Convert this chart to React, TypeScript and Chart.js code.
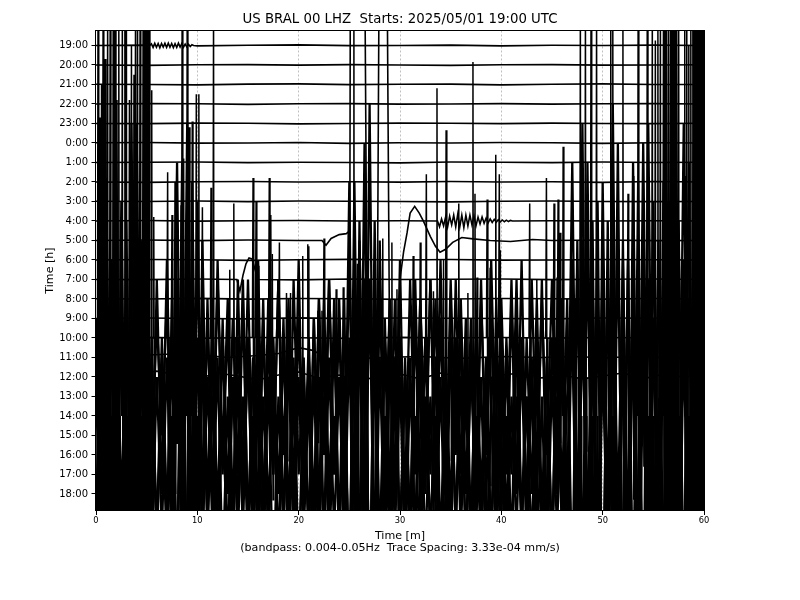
import React, { useEffect, useRef } from 'react';
import { Chart, registerables } from 'chart.js';

Chart.register(...registerables);

// ---------------- text ----------------
const TITLE = 'US BRAL 00 LHZ  Starts: 2025/05/01 19:00 UTC';
const X_LABEL = ['Time [m]', '(bandpass: 0.004-0.05Hz  Trace Spacing: 3.33e-04 mm/s)'];
const Y_LABEL = 'Time [h]';
const HOUR_LABELS = [
  '19:00', '20:00', '21:00', '22:00', '23:00', '0:00', '1:00', '2:00', '3:00', '4:00', '5:00', '6:00',
  '7:00', '8:00', '9:00', '10:00', '11:00', '12:00', '13:00', '14:00', '15:00', '16:00', '17:00', '18:00',
];
const X_TICKS = [0, 10, 20, 30, 40, 50, 60];

// ---------------- data (amplitudes in trace spacings, + = up) ----------------
// quiet traces, one value every 5 minutes
const QUIET_STEP = 5;
const QUIET: (number[] | null)[] = [
  [0, 0.02, -0.02, 0.01, 0.03, -0.01, 0, 0.02, -0.02, 0.01, 0, 0.02, 0],
  [0, -0.02, 0.01, 0.02, -0.01, 0.02, 0, -0.02, 0.01, 0.02, -0.01, 0, 0.01],
  [0.01, 0, -0.02, 0.02, 0.03, -0.01, 0.01, 0.02, -0.02, 0.01, 0.03, 0, 0],
  [0, 0.02, 0.01, -0.02, 0.01, 0.02, -0.01, 0, 0.02, -0.01, 0.01, 0.02, 0],
  [0, -0.01, 0.02, 0.01, -0.02, 0, 0.02, 0.01, -0.01, 0.02, 0, -0.01, 0.01],
  [0.01, 0.02, -0.01, 0, 0.02, -0.02, 0.01, 0, 0.02, 0.01, -0.02, 0.01, 0],
  [0, 0.01, 0.02, -0.01, 0.01, 0, -0.02, 0.02, 0.01, -0.01, 0.02, 0, 0.01],
  [0, -0.02, 0.01, 0.02, 0, 0.01, -0.01, 0.02, 0, 0.01, -0.02, 0.02, 0],
  [0.01, 0, 0.02, -0.01, 0.02, 0.01, 0, -0.02, 0.01, 0.02, 0, -0.01, 0],
  [0, 0.02, -0.01, 0.01, 0.02, 0, 0.01, -0.02, 0.02, 0.01, 0, 0.01, 0],
  null,
  [0, 0.02, 0.01, -0.02, 0.01, 0.03, 0, 0.02, -0.01, 0, 0.02, 0.01, 0],
  [0, -0.01, 0.02, 0.03, -0.02, 0.02, 0, 0.01, 0.02, -0.01, 0.01, 0.02, 0],
  [0.01, 0, 0.03, -0.01, 0.02, 0.01, -0.02, 0, 0.02, 0.01, -0.01, 0.02, 0],
  [0, 0.02, 0, -0.02, 0.03, -0.01, 0.02, 0.01, 0, -0.02, 0.02, 0.01, 0],
  [0, 0.03, -0.02, 0.02, 0.01, -0.02, 0.03, 0, 0.02, -0.01, 0.02, 0, 0.01],
];

// 19:00 small ringing
const RING_1900_START = 5.3;
const RING_1900_STEP = 1 / 6;
const RING_1900 = [0, 0.08, -0.1, 0.11, -0.09, 0.1, -0.12, 0.1, -0.08, 0.11, -0.1, 0.12, -0.09, 0.1, -0.11, 0.09, -0.1, 0.12, -0.08, 0.1, -0.09, 0.07, -0.08, 0.06, -0.05, 0.04, 0];

// 4:00 ringing
const RING_0400_START = 33.7;
const RING_0400_STEP = 0.2;
const RING_0400 = [0, -0.3, 0.1, -0.25, 0.2, -0.3, 0.25, -0.2, 0.3, -0.3, 0.35, -0.3, 0.3, -0.35, 0.3, -0.25, 0.3, -0.2, 0.25, -0.25, 0.2, -0.15, 0.2, -0.12, 0.15, -0.1, 0.1, -0.08, 0.08, -0.06, 0.06, -0.05, 0.05, -0.04, 0.04, -0.03, 0.03, 0];

// 5:00 transient  [minute, value]
const DRIFT_0500: [number, number][] = [
  [0, 0], [5, 0.02], [10, -0.01], [15, 0.02], [20, 0], [22.3, 0], [22.7, -0.25], [23.2, 0.1], [24.0, 0.3],
  [24.7, 0.35], [25.05, 0.5], [25.2, 40], [26.2, 40], [27.2, -40], [27.4, -40], [28.2, 40], [28.4, 40], [29.4, -40],
  [30.0, -2.0], [30.35, -0.6], [30.7, 0.4], [31.0, 1.4], [31.45, 1.75], [31.9, 1.4], [32.3, 1.0], [33.0, 0.2],
  [33.5, -0.3], [33.95, -0.6], [34.5, -0.45], [35.2, -0.1], [36.1, 0.15], [37.2, 0.08], [38.9, 0], [40.9, -0.05],
  [43.1, 0.05], [45, 0], [50, 0.02], [55, -0.01], [60, 0],
];

// 7:00 arc
const ARC_0700: [number, number][] = [[13.9, 0], [14.2, -0.6], [14.5, 0.2], [14.8, 0.8], [15.1, 1.1], [15.4, 1.05], [15.7, 0.5], [16.0, 0]];

// 11:00 drift
const DRIFT_1100: [number, number][] = [
  [0, 0], [4, 0.1], [8.7, 0.2], [11, 0.1], [13, 0], [16, 0.1], [18, 0.2], [20, 0.5], [21.5, 0.35], [22.5, 0],
  [23.2, -0.2], [25, -0.22], [26.5, -0.05], [28, 0], [32, 0.05], [36, -0.05], [40, 0.05], [44, 0], [47, 0.05],
  [49.5, 0], [50, -0.25], [50.5, 0], [54, 0.05], [57, -0.05], [60, 0],
];

// 12:00 drift, one value every 2 minutes
const DRIFT_1200_STEP = 2;
const DRIFT_1200 = [0, -0.2, 0.15, 0.3, 0.1, -0.1, 0.2, 0.05, -0.15, 0.1, 0.25, -0.05, 0.1, -0.2, 0.05, 0.15, -0.1, 0.2, 0, -0.15, 0.1, 0.2, -0.05, 0.1, -0.1, 0.05, 0.2, -0.1, 0.15, 0, 0.1];

// noisy traces, one value every half minute
const ZZ_STEP = 0.5;
const Z_1300 = [
  2, -5, 6, -4, 7, -6, 5, -7, 6, -5, 7,
  -3, 4, -2, 5, -4,
  6, -7, 8, -6, 7, -5,
  4, -5, 6, -3, 5, -6, 3, -4, 6, -5, 3, -6, 5, -4, 6, -3, 5, -6, 4, -5, 3, -6, 5, -3, 6, -4, 5, -5,
  7, -6, 8, -7, 6, -8, 5,
  -4, 5, -6, 3, -5, 6, -4, 5, -3, 6, -6, 4, -5, 6, -3, 5, -5, 4, -6, 5, -3, 4, -6, 5, -4, 6, -5, 3, -6, 6, -4, 5, -3, 6, -5, 4, -6,
  7, -6, 8, -7, 6, -8, 7, -5, 8, -6, 7, -7, 6, -8, 7, -6, 8, -5, 7, -7, 6, -8, 7, -6, 8, -7, 6,
];
const Z_1400 = [
  5, -9, 12, -7, 14, -11, 10, -13, 15, -8, 12,
  -6, 7, -4, 8, -5,
  13, -10, 15, -12, 11, -7,
  6, -5, 8, -3, 5, -7, 7, -4, 3, -6, 8, -5, 4, -3, 7, -6, 5, -4, 8, -5, 3, -6, 6, -7, 7, -3, 5, -6,
  12, -14, 10, -12, 16, -10, 9,
  -5, 6, -4, 8, -6, 3, -7, 6, -4, 7, -3, 8, -5, 4, -6, 5, -7, 3, -4, 7, -5, 8, -3, 4, -6, 6, -4, 8, -5, 3, -5, 7, -6, 4, -3, 6, -5,
  13, -9, 15, -12, 10, -14, 12, -8, 16, -11, 9, -15, 13, -10, 14, -9, 11, -16, 12, -13, 10, -8, 15, -12, 14, -10, 12,
];
const Z_1500 = [
  -7, 13, -10, 9, -14, 12, -9, 16, -11, 10, -8,
  5, -6, 4, -5, 7,
  -9, 14, -11, 13, -8, 10,
  -4, 7, -6, 5, -3, 6, -2, 8, -5, 4, -4, 7, -6, 5, -3, 6, -5, 8, -2, 4, -6, 6, -4, 7, -3, 5, -5, 7,
  -10, 13, -8, 15, -12, 11, -9,
  6, -3, 7, -6, 4, -5, 8, -3, 5, -2, 7, -6, 4, -4, 8, -2, 6, -5, 5, -3, 4, -6, 7, -4, 5, -2, 8, -5, 5, -3, 7, -4, 4, -6, 6, -3, 7,
  -12, 10, -15, 14, -9, 12, -13, 11, -10, 15, -14, 9, -11, 13, -12, 16, -9, 10, -13, 12, -15, 11, -10, 14, -12, 9, -11,
];
const Z_1600 = [
  -4, 8, -6, 10, -5, 9, -7, 8, -9, 7, -5,
  5, -4, 6, -3, 5,
  -6, 9, -7, 10, -5, 8,
  -4, 6, -3, 7, -5, 4, -3, 8, -4, 5, -5, 7, -3, 4, -5, 6, -3, 5, -6, 4, -4, 7, -3, 6, -4, 8, -5, 4,
  -7, 10, -6, 9, -8, 8, -5,
  6, -4, 5, -5, 4, -4, 7, -3, 6, -5, 5, -6, 4, -4, 6, -3, 5, -5, 7, -4, 4, -5, 6, -3, 5, -5, 7, -4, 3, -5, 6, -4, 5, -5, 6, -4, 7,
  -7, 10, -6, 11, -8, 8, -9, 9, -6, 11, -7, 10, -8, 7, -10, 9, -7, 10, -6, 8, -9, 11, -8, 8, -6, 10, -7,
];
const Z_1700 = [
  5, -6, 9, -5, 8, -7, 10, -5, 7, -8, 6,
  -4, 5, -3, 6, -4,
  8, -5, 9, -7, 7, -4,
  5, -3, 6, -5, 4, -5, 5, -3, 7, -4, 4, -5, 5, -6, 4, -3, 6, -4, 5, -3, 4, -6, 5, -4, 6, -3, 5, -4,
  7, -8, 8, -6, 10, -7, 6,
  -4, 6, -3, 5, -5, 5, -3, 6, -4, 4, -5, 5, -5, 7, -3, 5, -4, 6, -3, 5, -5, 4, -4, 6, -5, 4, -3, 6, -4, 5, -5, 4, -5, 5, -3, 6, -4,
  9, -6, 10, -7, 7, -9, 8, -5, 11, -8, 7, -7, 10, -6, 9, -10, 8, -6, 10, -8, 6, -7, 11, -6, 9, -7, 7,
];
const Z_1800 = [
  -2, 7, -4, 8, -3, 9, -5, 6, -6, 7, -3,
  4, -2, 5, -3, 4,
  -4, 8, -5, 9, -4, 7,
  -2, 5, -3, 4, -3, 6, -2, 5, -3, 4, -3, 5, -2, 6, -3, 4, -3, 5, -4, 4, -2, 6, -3, 5, -3, 4, -2, 6,
  -5, 8, -4, 9, -6, 7, -4,
  4, -3, 5, -2, 6, -3, 4, -4, 5, -2, 4, -3, 4, -3, 6, -2, 5, -3, 4, -3, 5, -2, 4, -4, 4, -3, 5, -2, 5, -3, 6, -2, 4, -3, 5, -2, 5,
  8, -5, 9, -4, 8, -7, 7, -4, 9, -6, 7, -5, 8, -7, 6, -6, 9, -5, 8, -4, 7, -7, 8, -5, 9, -4, 7,
];

// tall spikes [minute, amplitude]
const SPIKES_1000: [number, number][] = [
  [5.7, 6.2], [7.07, 8.5], [7.5, 6.3], [7.8, 8.0], [7.95, 5.4], [8.4, 6.8], [8.65, 9.2], [10.5, 6.7], [11.35, 7.7],
  [13.6, 6.9], [15.5, 8.2], [15.8, 7.0], [17.1, 8.2], [17.25, 6.3], [18.1, 4.9], [20.9, 4.8], [22.5, 5.1],
  [32.6, 8.4], [35.8, 6.9], [37.4, 7.4], [38.6, 7.1], [39.45, 9.4], [39.8, 8.4], [42.8, 6.9], [44.45, 8.2],
  [45.2, 6.9], [45.6, 7.1], [45.8, 5.4], [50.5, 5.7], [52.5, 7.4], [53.0, 8.3], [54.0, 6.6], [58.2, 8.3],
];
const SPIKES_1200: [number, number][] = [
  [13.2, 5.5], [16.0, 5.7], [17.4, 6.3], [18.8, 4.3], [19.2, 4.3], [20.4, 6.2], [21.0, 6.7], [21.9, 3.4], [22.3, 3.4],
  [23.7, 4.5], [24.4, 4.6], [25.8, 5.8], [26.4, 5.1], [27.5, 6.3], [28.3, 7.1], [29.2, 6.9], [29.7, 4.5], [31.3, 6.2],
  [32.0, 6.9], [33.3, 4.4], [34.3, 6.0], [35.0, 4.3], [36.7, 4.3], [37.6, 5.1], [38.9, 5.6], [39.9, 6.5], [41.5, 4.0],
  [43.5, 5.0], [45.5, 5.1], [47.3, 4.0], [48.3, 3.8],
];
const SPIKES_1400: [number, number][] = [
  [0.2, 21], [0.4, 15.3], [0.55, 17], [0.7, 21], [0.9, 18.3], [1.15, 21], [1.4, 21], [1.7, 21], [1.9, 21], [2.0, 16.2],
  [2.25, 21], [2.6, 21], [2.85, 21], [3.0, 21], [3.3, 16.2], [3.5, 19], [3.75, 17.5], [3.9, 21], [4.1, 21], [4.35, 21],
  [4.65, 21], [4.85, 21], [5.05, 21], [5.25, 21], [5.5, 16.7], [8.5, 21], [9.0, 21], [9.2, 14.8], [9.5, 15.1],
  [9.9, 16.5], [10.15, 16.5], [11.6, 21], [25.45, 21], [33.65, 16.8], [34.55, 14.65], [37.2, 18.15], [46.1, 13.8],
  [47.8, 21], [48.3, 21], [48.85, 21], [49.4, 21], [50.8, 21], [51.0, 21], [52.0, 20], [53.5, 21], [54.4, 21],
  [54.9, 21], [55.2, 19.26], [55.45, 21], [55.7, 21], [56.0, 21], [56.15, 21], [56.3, 21], [56.5, 21], [56.7, 21],
  [56.85, 21], [57.0, 21], [57.15, 21], [57.3, 21], [57.5, 21], [58.1, 20.5], [58.3, 21], [58.5, 19], [58.7, 21],
  [58.9, 21], [59.05, 21], [59.2, 21], [59.35, 21], [59.5, 21], [59.65, 21], [59.8, 21], [59.95, 21],
];

// ---------------- assembly ----------------
const SPIKE_HALF = 0.07;

function stepPairs(vals: number[], start: number, step: number): [number, number][] {
  return vals.map((v, i) => [start + i * step, v] as [number, number]);
}

const ZIGZAGS: Record<number, number[]> = { 18: Z_1300, 19: Z_1400, 20: Z_1500, 21: Z_1600, 22: Z_1700, 23: Z_1800 };
const DRIFTS: Record<number, [number, number][]> = {
  10: DRIFT_0500,
  16: DRIFT_1100,
  17: stepPairs(DRIFT_1200, 0, DRIFT_1200_STEP),
};
const SPECIALS: Record<number, [number, number][]> = {
  0: stepPairs(RING_1900, RING_1900_START, RING_1900_STEP),
  9: stepPairs(RING_0400, RING_0400_START, RING_0400_STEP),
  12: ARC_0700,
};
const SPIKES: Record<number, [number, number][]> = { 15: SPIKES_1000, 17: SPIKES_1200, 19: SPIKES_1400 };

function tracePairs(k: number): [number, number][] {
  if (ZIGZAGS[k]) return stepPairs(ZIGZAGS[k], 0, ZZ_STEP);
  if (DRIFTS[k]) return DRIFTS[k];
  let base = stepPairs(QUIET[k] as number[], 0, QUIET_STEP);
  const sp = SPECIALS[k];
  if (sp) {
    const lo = sp[0][0];
    const hi = sp[sp.length - 1][0];
    base = base.filter(([t]) => t < lo || t > hi).concat(sp).sort((a, b) => a[0] - b[0]);
  }
  return base;
}

// each spike: one swing up to the read amplitude and back down through the trace
function spikePoints(k: number, list: [number, number][]) {
  const pts: { x: number; y: number | null }[] = [];
  for (const [t, a] of list) {
    pts.push(
      { x: t - SPIKE_HALF, y: k },
      { x: t, y: k - a },
      { x: t + SPIKE_HALF, y: k + a },
      { x: t + 2 * SPIKE_HALF, y: k },
      { x: t + 2 * SPIKE_HALF, y: null },
    );
  }
  return pts;
}

const framePlugin = {
  id: 'frame',
  afterDatasetsDraw(chart: any) {
    const { ctx, chartArea: a } = chart;
    ctx.save();
    ctx.strokeStyle = '#000';
    ctx.lineWidth = 1;
    ctx.strokeRect(Math.floor(a.left) - 0.5, Math.floor(a.top) + 0.5, Math.round(a.right - a.left) + 1, Math.round(a.bottom - a.top));
    ctx.restore();
  },
};

export default function App() {
  const ref = useRef<HTMLCanvasElement>(null);

  useEffect(() => {
    const canvas = ref.current;
    if (!canvas) return;
    Chart.defaults.font.family = "'DejaVu Sans', sans-serif";
    Chart.defaults.color = '#000';

    const datasets: any[] = [];
    for (let k = 0; k < HOUR_LABELS.length; k++) {
      datasets.push({
        data: tracePairs(k).map(([t, v]) => ({ x: t, y: k - v })),
        borderColor: '#000',
        borderWidth: ZIGZAGS[k] ? 2.3 : 1.6,
        pointRadius: 0,
        tension: 0,
        fill: false,
        spanGaps: false,
        xAxisID: 'x',
        yAxisID: 'y',
      });
    }
    for (const key of Object.keys(SPIKES)) {
      const k = Number(key);
      datasets.push({
        data: spikePoints(k, SPIKES[k]),
        borderColor: '#000',
        borderWidth: 1.5,
        pointRadius: 0,
        tension: 0,
        fill: false,
        spanGaps: false,
        xAxisID: 'x',
        yAxisID: 'y',
      });
    }

    const chart = new Chart(canvas, {
      type: 'line',
      data: { datasets },
      options: {
        animation: false,
        responsive: false,
        maintainAspectRatio: false,
        devicePixelRatio: 1,
        events: [],
        layout: { padding: 0 },
        plugins: {
          legend: { display: false },
          tooltip: { enabled: false },
          title: {
            display: true,
            text: TITLE,
            color: '#000',
            font: { size: 13.3, weight: 'normal', lineHeight: 1.2 },
            padding: { top: 12, bottom: 2.5 },
          },
        },
        scales: {
          x: {
            type: 'linear',
            min: 0,
            max: 60,
            afterBuildTicks: (s: any) => {
              s.ticks = X_TICKS.map((v) => ({ value: v }));
            },
            ticks: { font: { size: 8.3 }, color: '#000', padding: 1, maxRotation: 0, autoSkip: false },
            grid: {
              color: (c: any) => (c.tick && (c.tick.value === 0 || c.tick.value === 60) ? 'rgba(0,0,0,0)' : '#b0b0b0'),
              lineWidth: 0.8,
              tickColor: '#000',
              tickLength: 4.5,
              tickWidth: 1,
              tickBorderDash: [],
            },
            border: { display: false, dash: [2, 2] },
            title: {
              display: true,
              text: X_LABEL,
              color: '#000',
              font: { size: 11.1, lineHeight: 1.05 },
              padding: { top: 0, bottom: 46.5 },
            },
            afterFit: (s: any) => {
              s.height = 89.5;
            },
          },
          y: {
            type: 'linear',
            position: 'left',
            min: -0.77,
            max: 23.85,
            reverse: true,
            afterBuildTicks: (s: any) => {
              s.ticks = HOUR_LABELS.map((_, i) => ({ value: i }));
            },
            ticks: {
              autoSkip: false,
              font: { size: 10 },
              color: '#000',
              padding: 3.5,
              callback: (v: any) => HOUR_LABELS[v] ?? '',
            },
            grid: { drawOnChartArea: false, tickColor: '#000', tickLength: 4.5, tickWidth: 1 },
            border: { display: false },
            title: {
              display: true,
              text: Y_LABEL,
              color: '#000',
              font: { size: 11.1, lineHeight: 1.2 },
              padding: { top: 43.4, bottom: 0 },
            },
            afterFit: (s: any) => {
              s.width = 96;
            },
          },
          yRight: {
            type: 'linear',
            position: 'right',
            display: true,
            grid: { display: false },
            ticks: { display: false },
            border: { display: false },
            afterFit: (s: any) => {
              s.width = 96;
            },
          },
        },
      } as any,
      plugins: [framePlugin],
    });

    return () => chart.destroy();
  }, []);

  return (
    <div style={{ position: 'absolute', left: 0, top: 0, width: 800, height: 600, background: '#fff' }}>
      <canvas ref={ref} width={800} height={600} style={{ display: 'block', width: 800, height: 600 }} />
    </div>
  );
}
